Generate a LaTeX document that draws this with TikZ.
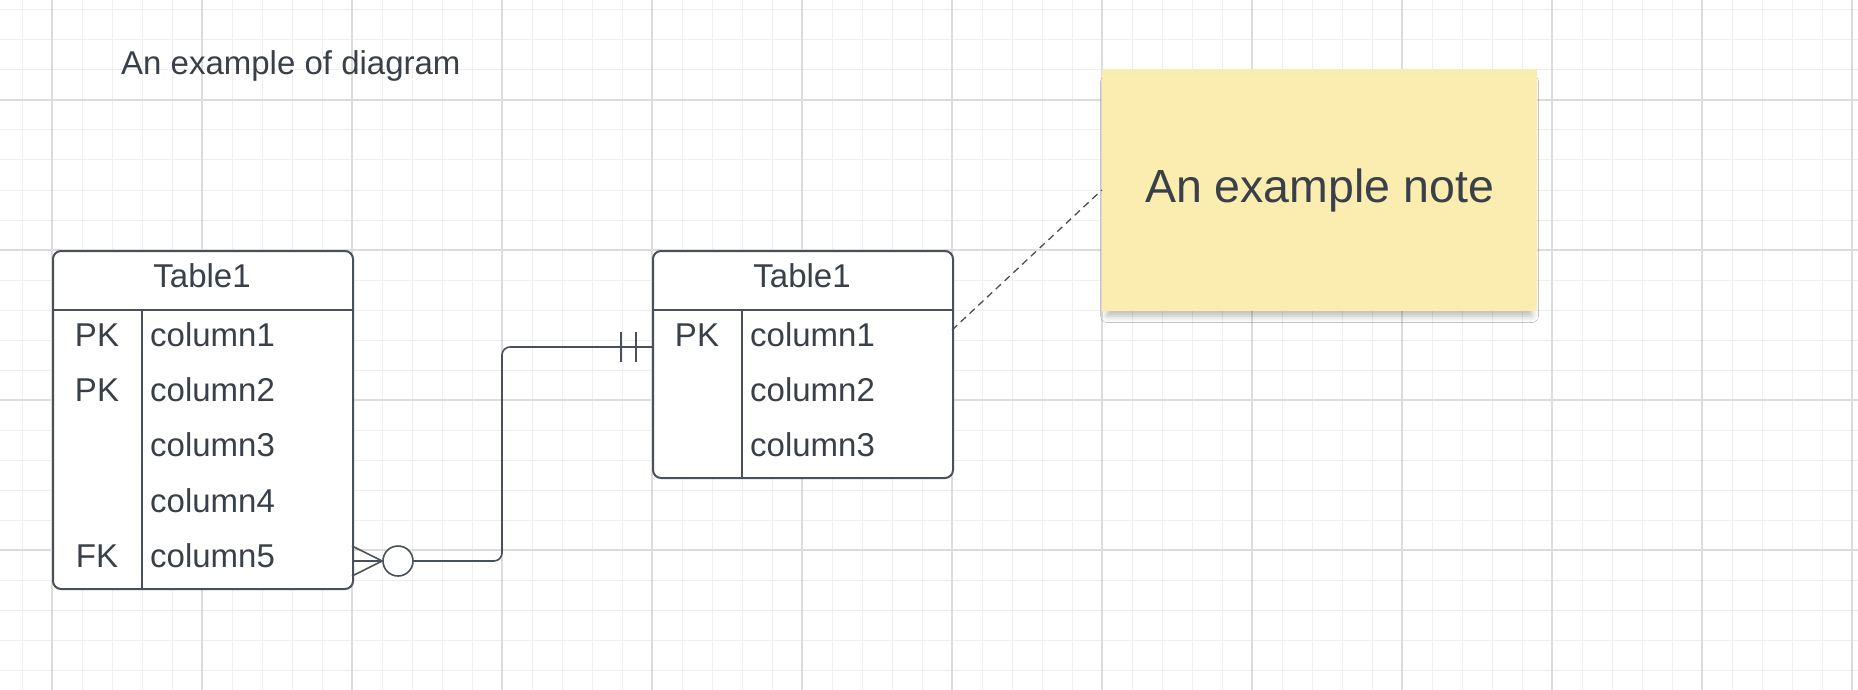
\documentclass[tikz,border=0pt]{standalone}
\usepackage{fontspec}
\setmainfont{Liberation Sans}
\usepackage{xcolor}
\usetikzlibrary{arrows,positioning,shadows.blur}
\definecolor{inkgray}{HTML}{3A4049}
\definecolor{linegray}{HTML}{4A5059}
\definecolor{gridminor}{HTML}{EEEEEE}
\definecolor{gridmajor}{HTML}{DCDCDC}
\definecolor{notetop}{HTML}{F4E5A8}
\definecolor{notefill}{HTML}{FBECB0}
\pgfdeclareverticalshading{notegrad}{100bp}{color(0bp)=(notefill); color(72bp)=(notefill); color(100bp)=(notetop)}
\tikzset{
  gridthin/.style={draw=gridminor,line width=1pt},
  gridthick/.style={draw=gridmajor,line width=1.6pt},
  tablebox/.style={draw=linegray,line width=2pt,rounded corners=8pt,fill=white,inner sep=0pt,anchor=north west},
  tableline/.style={draw=linegray,line width=2pt},
  rowtext/.style={text=inkgray,font=\fontsize{33}{39}\selectfont,inner sep=0pt},
  erline/.style={draw=linegray,line width=1.6pt},
  noteline/.style={draw=linegray,line width=1.3pt,dash pattern=on 7pt off 5pt},
  notebox/.style={shading=notegrad,
    minimum width=435pt,minimum height=240pt,inner sep=0pt,text=inkgray,font=\fontsize{46.5}{54}\selectfont,
    blur shadow={shadow xshift=0pt,shadow yshift=-9pt,shadow scale=0.975,shadow blur radius=7pt,shadow blur extra rounding=0pt,shadow opacity=28}}
}

\begin{document}
\begin{tikzpicture}[x=1pt,y=-1pt]
\useasboundingbox (0,0) rectangle (1858,690);
\fill[white] (0,0) rectangle (1858,690);
% grid
\foreach \gx in {-8,22,...,1852} \draw[gridthin] (\gx,0) -- (\gx,690);
\foreach \gy in {10,40,...,670} \draw[gridthin] (0,\gy) -- (1858,\gy);
\foreach \gx in {52,202,...,1852} \draw[gridthick] (\gx,0) -- (\gx,690);
\foreach \gy in {100,250,400,550} \draw[gridthick] (0,\gy) -- (1858,\gy);
%
\node (title) [rowtext,anchor=base west] at (121,75) {An example of diagram};
%
\node (lefttab) [tablebox,minimum width=300pt,minimum height=338pt] at (52,250) {};
\draw[tableline] (52,310) -- (352,310);
\draw[tableline] (142,310) -- (142,588);
\node (lhead) [rowtext,anchor=base] at (202,287) {Table1};
\node (lk1) [rowtext,anchor=base] at (97,346) {PK};
\node (lk2) [rowtext,anchor=base] at (97,401) {PK};
\node (lk5) [rowtext,anchor=base] at (97,567) {FK};
\node (lc1) [rowtext,anchor=base west] at (150,346) {column1};
\node (lc2) [rowtext,anchor=base west] at (150,401) {column2};
\node (lc3) [rowtext,anchor=base west] at (150,456) {column3};
\node (lc4) [rowtext,anchor=base west] at (150,512) {column4};
\node (lc5) [rowtext,anchor=base west] at (150,567) {column5};
%
\node (righttab) [tablebox,minimum width=300pt,minimum height=227pt] at (652,250) {};
\draw[tableline] (652,310) -- (952,310);
\draw[tableline] (742,310) -- (742,477);
\node (rhead) [rowtext,anchor=base] at (802,287) {Table1};
\node (rk1) [rowtext,anchor=base] at (697,346) {PK};
\node (rc1) [rowtext,anchor=base west] at (750,346) {column1};
\node (rc2) [rowtext,anchor=base west] at (750,401) {column2};
\node (rc3) [rowtext,anchor=base west] at (750,456) {column3};
%
\node (note) [notebox] at (1319.5,190) {An example note};
%
% zero-or-many to one-and-only-one
\coordinate (fkend) at (352,561);
\coordinate (pkend) at (652,347);
\coordinate (rtedge) at (952,330);
\node (crow) [circle,erline,fill=white,minimum size=30pt,inner sep=0pt] at (398,561) {};
\draw[erline] ([yshift=15pt]fkend) -- (crow.west) -- ([yshift=-15pt]fkend);
\draw[erline] (fkend) -- (crow.west);
\draw[erline,rounded corners=8pt] (crow.east) -| (502,450) |- (pkend);
\draw[erline] ([xshift=-31pt,yshift=15pt]pkend) -- ([xshift=-31pt,yshift=-15pt]pkend);
\draw[erline] ([xshift=-16pt,yshift=15pt]pkend) -- ([xshift=-16pt,yshift=-15pt]pkend);
\draw[noteline] (rtedge) -- (note.west);
\end{tikzpicture}
\end{document}
